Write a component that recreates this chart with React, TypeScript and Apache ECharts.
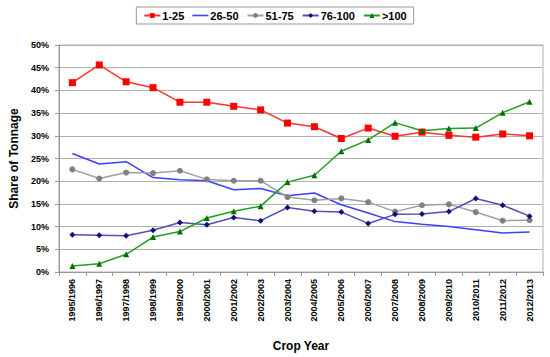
import React, { useEffect, useRef } from "react";
import * as echarts from "echarts";

const categories = [
  "1995/1996", "1996/1997", "1997/1998", "1998/1999", "1999/2000", "2000/2001",
  "2001/2002", "2002/2003", "2003/2004", "2004/2005", "2005/2006", "2006/2007",
  "2007/2008", "2008/2009", "2009/2010", "2010/2011", "2011/2012", "2012/2013",
];

const s1to25 = [41.7, 45.6, 41.9, 40.6, 37.4, 37.4, 36.5, 35.7, 32.8, 32.0, 29.4, 31.7, 29.9, 30.8, 30.1, 29.7, 30.4, 30.0];
const s26to50 = [26.1, 23.8, 24.3, 20.8, 20.3, 20.1, 18.1, 18.4, 16.8, 17.4, 14.8, 13.0, 11.1, 10.5, 10.0, 9.3, 8.6, 8.8];
const s51to75 = [22.6, 20.6, 21.9, 21.8, 22.3, 20.4, 20.1, 20.1, 16.5, 15.8, 16.2, 15.4, 13.3, 14.7, 14.9, 13.2, 11.3, 11.4];
const s76to100 = [8.2, 8.1, 8.0, 9.2, 10.9, 10.4, 12.0, 11.3, 14.2, 13.4, 13.2, 10.7, 12.7, 12.8, 13.3, 16.2, 14.7, 12.3];
const sOver100 = [1.3, 1.8, 3.9, 7.7, 8.9, 11.9, 13.4, 14.5, 19.8, 21.3, 26.6, 29.1, 32.9, 31.1, 31.6, 31.7, 35.1, 37.5];

const FONT = "'Liberation Sans', Arial, sans-serif";
const BLUE = "#3f3fff";

export default function App() {
  const ref = useRef<HTMLDivElement>(null);
  useEffect(() => {
    if (!ref.current) return;
    const chart = echarts.init(ref.current, undefined, { renderer: "svg" });
    const mk = (name: string, data: number[], lineColor: string, markColor: string, symbol: string, size: number) => ({
      name,
      type: "line",
      data,
      symbol,
      symbolSize: size,
      showSymbol: symbol !== "none",
      lineStyle: { color: lineColor, width: 1.5 },
      itemStyle: { color: markColor },
    });
    chart.setOption({
      animation: false,
      textStyle: { fontFamily: FONT },
      legend: {
        top: 7,
        left: "center",
        itemWidth: 16,
        itemHeight: 6,
        itemGap: 8,
        borderColor: "#999",
        borderWidth: 1,
        padding: [3, 7, 3, 7],
        textStyle: { fontFamily: FONT, fontWeight: "bold", fontSize: 11, color: "#000", padding: [0, 0, 0, -3] },
        data: [
          "1-25",
          {
            name: "26-50",
            icon: "path://M0,0H16V1.6H0Z",
            itemStyle: { color: BLUE, borderColor: BLUE, borderWidth: 0, opacity: 1 },
            lineStyle: { color: BLUE },
          },
          "51-75",
          "76-100",
          ">100",
        ],
      },
      grid: {
        left: 49,
        right: 7,
        top: 45,
        bottom: 77,
        show: true,
        borderColor: "#b0b0b0",
        borderWidth: 1,
      },
      xAxis: {
        type: "category",
        data: categories,
        boundaryGap: true,
        name: "Crop Year",
        nameLocation: "middle",
        nameGap: 68,
        nameTextStyle: { fontFamily: FONT, fontWeight: "bold", fontSize: 12, color: "#000" },
        axisLine: { lineStyle: { color: "#999" } },
        axisTick: { show: true, alignWithLabel: false, length: 4, lineStyle: { color: "#999" } },
        axisLabel: { rotate: 90, fontFamily: FONT, fontWeight: "bold", fontSize: 9, color: "#000", margin: 7, interval: 0 },
      },
      yAxis: {
        type: "value",
        min: 0,
        max: 50,
        interval: 5,
        name: "Share of Tonnage",
        nameLocation: "middle",
        nameGap: 34,
        nameTextStyle: { fontFamily: FONT, fontWeight: "bold", fontSize: 12, color: "#000" },
        axisLine: { show: true, lineStyle: { color: "#999" } },
        axisTick: { show: true, length: 4, lineStyle: { color: "#999" } },
        axisLabel: { formatter: "{value}%", fontFamily: FONT, fontWeight: "bold", fontSize: 9, color: "#000", margin: 10 },
        splitLine: { lineStyle: { color: "#b0b0b0", width: 1 } },
      },
      series: [
        mk("1-25", s1to25, "#ff3030", "#ff0000", "rect", 7),
        mk("26-50", s26to50, BLUE, BLUE, "none", 0),
        mk("51-75", s51to75, "#a0a0a0", "#808080", "circle", 6),
        mk("76-100", s76to100, "#5050b8", "#10107a", "diamond", 6),
        mk(">100", sOver100, "#20a020", "#007000", "triangle", 6),
      ],
    });
    return () => chart.dispose();
  }, []);
  return <div ref={ref} style={{ position: "fixed", left: 0, top: 0, width: 550, height: 357, background: "#fff" }} />;
}
